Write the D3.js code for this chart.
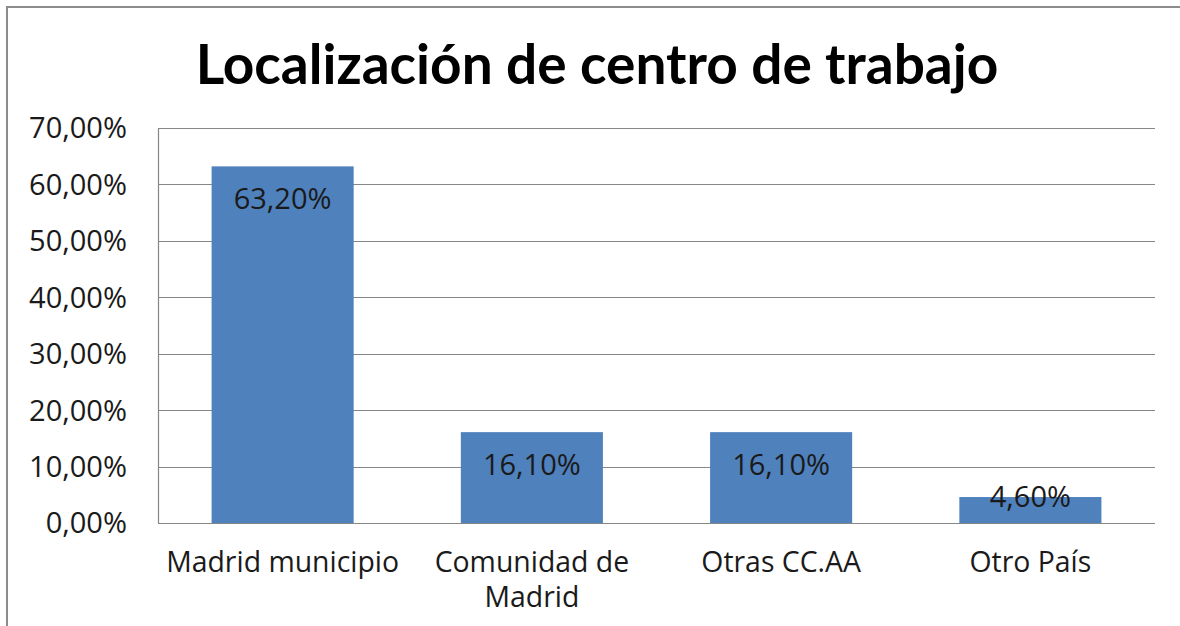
<!DOCTYPE html>
<html>
<head>
<meta charset="utf-8">
<script src="https://cdn.jsdelivr.net/npm/d3@7"></script>
<style>
  body { margin: 0; background: #fff; }
  text { font-family: "Open Sans", Lato, sans-serif; fill: #1a1a1a; }
</style>
</head>
<body>
<svg id="chart"></svg>
<script>
var w = 1180;
var h = 626;

// data
var categories = ["Madrid municipio", "Comunidad de Madrid", "Otras CC.AA", "Otro País"];
var catLines = [["Madrid municipio"], ["Comunidad de", "Madrid"], ["Otras CC.AA"], ["Otro País"]];
var values = [63.2, 16.1, 16.1, 4.6];
var yTicks = [0, 10, 20, 30, 40, 50, 60, 70];
var title = "Localización de centro de trabajo";

var plot = {left: 158, right: 1155, top: 128, bottom: 523};

var svg = d3.select("#chart")
    .attr("width", w)
    .attr("height", h);

svg.append("rect")
    .attr("x", 0).attr("y", 0)
    .attr("width", w).attr("height", h)
    .attr("fill", "#fff");

// outer chart border (only left and top visible)
svg.append("path")
    .attr("d", "M7,640 L7,7 L1190,7")
    .attr("fill", "none")
    .attr("stroke", "#8c8c8c")
    .attr("stroke-width", 2);

var x = d3.scaleBand()
    .domain(categories)
    .range([plot.left, plot.right])
    .paddingInner(0.43)
    .paddingOuter(0.215);

var y = d3.scaleLinear()
    .domain([0, 70])
    .range([plot.bottom, plot.top]);

var fmt = function(v) { return d3.format(".2f")(v).replace(".", ",") + "%"; };

// font size so that sample text is wantW wide
function fitSize(sample, wantW, weight) {
    var tmp = svg.append("text").attr("font-size", 20)
        .attr("font-weight", weight || "normal").text(sample);
    var tw = tmp.node().getComputedTextLength();
    tmp.remove();
    return 20 * wantW / tw;
}
var numSize = fitSize("70,00%", 98);
var catSize = fitSize("Madrid municipio", 233);

// gridlines
svg.append("g").selectAll("line")
    .data(yTicks)
    .join("line")
    .attr("x1", plot.left)
    .attr("x2", plot.right)
    .attr("y1", function(d) { return Math.round(y(d)) + 0.5; })
    .attr("y2", function(d) { return Math.round(y(d)) + 0.5; })
    .attr("stroke", "#878787")
    .attr("stroke-width", 1.2);

// plot area left border
svg.append("line")
    .attr("x1", plot.left + 0.5).attr("x2", plot.left + 0.5)
    .attr("y1", plot.top).attr("y2", plot.bottom + 0.5)
    .attr("stroke", "#878787")
    .attr("stroke-width", 1.2);

// y tick labels
svg.append("g").selectAll("text")
    .data(yTicks)
    .join("text")
    .attr("x", 127)
    .attr("y", function(d) { return y(d); })
    .attr("dy", "0.36em")
    .attr("text-anchor", "end")
    .attr("font-size", numSize)
    .text(fmt);

// bars
svg.append("g").selectAll("rect")
    .data(values)
    .join("rect")
    .attr("x", function(d, i) { return x(categories[i]); })
    .attr("y", function(d) { return y(d); })
    .attr("width", x.bandwidth())
    .attr("height", function(d) { return y(0) - y(d); })
    .attr("fill", "#4f81bd");

// value labels
svg.append("g").selectAll("text")
    .data(values)
    .join("text")
    .attr("x", function(d, i) { return x(categories[i]) + x.bandwidth() / 2; })
    .attr("y", function(d) {
        var bh = y(0) - y(d);
        return bh > 45 ? y(d) + 32 : y(d) - 1;
    })
    .attr("dy", "0.36em")
    .attr("text-anchor", "middle")
    .attr("font-size", numSize)
    .text(fmt);

// category labels
var cats = svg.append("g").selectAll("text")
    .data(catLines)
    .join("text")
    .attr("x", function(d, i) { return x(categories[i]) + x.bandwidth() / 2; })
    .attr("y", 562)
    .attr("text-anchor", "middle")
    .attr("font-size", catSize);

cats.selectAll("tspan")
    .data(function(d) { return d; })
    .join("tspan")
    .attr("x", function() { return d3.select(this.parentNode).attr("x"); })
    .attr("dy", function(d, i) { return i == 0 ? "0.36em" : 35; })
    .text(function(d) { return d; });

// title
var t = svg.append("text")
    .attr("x", 597)
    .attr("y", 64)
    .attr("dy", "0.36em")
    .attr("text-anchor", "middle")
    .attr("font-weight", "bold")
    .style("font-family", "Lato, 'Open Sans', sans-serif")
    .style("fill", "#000")
    .text(title);
t.attr("font-size", 46);
var tw = t.node().getComputedTextLength();
t.attr("font-size", 46 * 803 / tw);
</script>
</body>
</html>
